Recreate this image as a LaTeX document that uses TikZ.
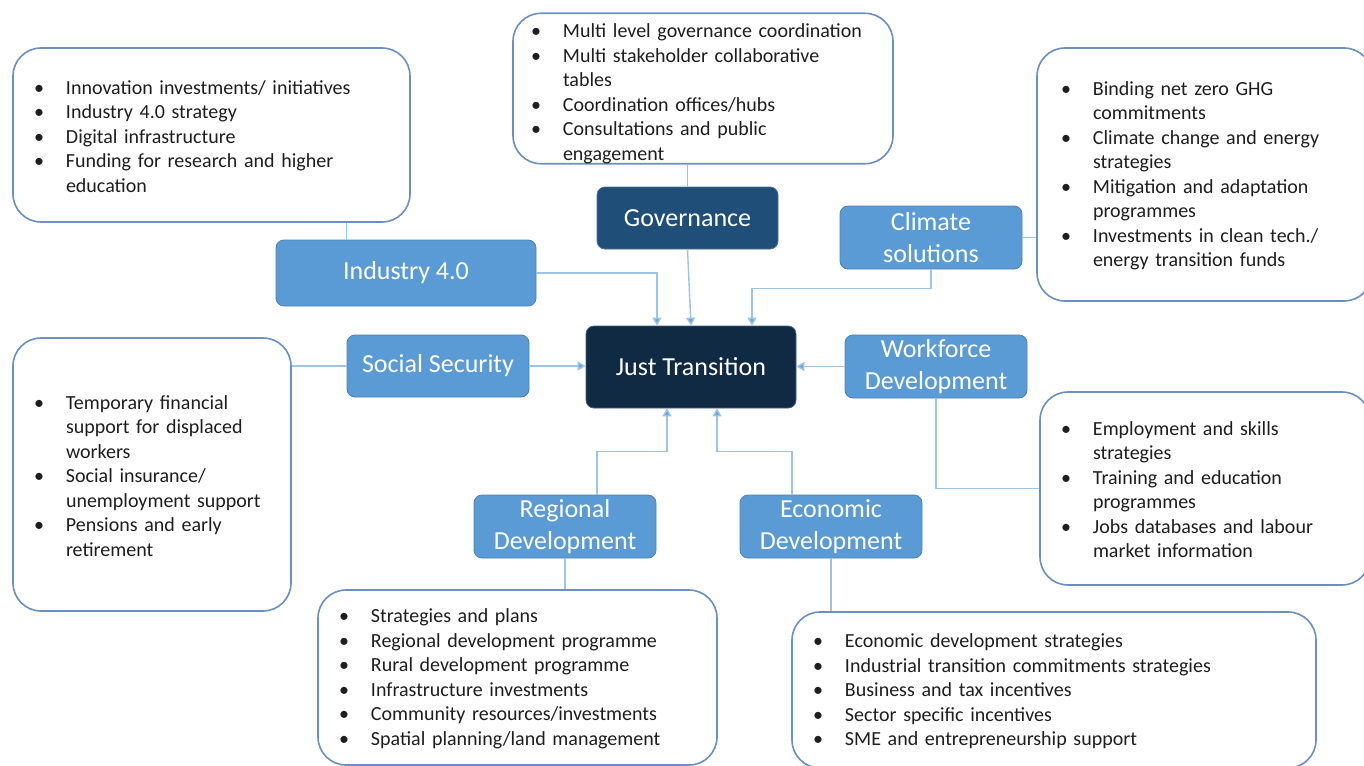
\documentclass[tikz,border=0pt]{standalone}
\usepackage{fontspec}
\setmainfont{Carlito}
\usetikzlibrary{arrows.meta}

\definecolor{boxline}{HTML}{6A8FC0}
\definecolor{listtext}{HTML}{1E1E1E}
\definecolor{topicfill}{HTML}{5B9BD5}
\definecolor{topicline}{HTML}{4A80B8}
\definecolor{govfill}{HTML}{1F4E79}
\definecolor{jtfill}{HTML}{112A44}
\definecolor{jtline}{HTML}{3D6189}
\definecolor{linkcol}{HTML}{9DC3E6}
\definecolor{tipcol}{HTML}{66A6E2}

\newcommand\bitem{\par\hangindent=28pt\hangafter=1\noindent\makebox[28pt][l]{\hspace{-4pt}\textbullet}}
\newcommand\listend[1][8pt]{\par\vspace{#1}}

\begin{document}
\begin{tikzpicture}[x=1pt,y=-1pt,
  listbox/.style={draw=boxline, line width=1.6pt, rounded corners=28pt, fill=white,
    inner xsep=25pt, inner ysep=0pt, align=left, text=listtext,
    font=\fontsize{20}{24.5}\selectfont},
  topic/.style={draw=topicline, fill=topicfill, line width=0.8pt, rounded corners=8pt,
    text=white, align=center, inner sep=0pt, font=\fontsize{26}{31.7}\selectfont,
    minimum width=182pt, minimum height=63pt},
  link/.style={draw=linkcol, line width=1.4pt},
  feed/.style={link, -{Triangle[width=9pt,length=8pt,fill=tipcol]}}]

\useasboundingbox (0,0) rectangle (1364,765);
\clip (0,0) rectangle (1364,765);

% the lists
\node[listbox, text width=347pt, minimum height=174pt] (ind_list) at (211.5,135) {%
  \bitem Innovation investments/ initiatives
  \bitem Industry 4.0 strategy
  \bitem Digital infrastructure
  \bitem Funding for research and higher\newline education\listend};
\node[listbox, inner xsep=22pt, text width=336pt, minimum height=149pt] (gov_list) at (703,88.5) {%
  \bitem Multi level governance coordination
  \bitem Multi stakeholder collaborative\newline tables
  \bitem Coordination offices/hubs
  \bitem Consultations and public\newline engagement\listend[0pt]};
\node[listbox, inner xsep=28pt, text width=279pt, minimum height=253pt] (clim_list) at (1204.5,174.5) {%
  \bitem Binding net zero GHG\newline commitments
  \bitem Climate change and energy\newline strategies
  \bitem Mitigation and adaptation\newline programmes
  \bitem Investments in clean tech./\newline energy transition funds\listend};
\node[listbox, text width=228pt, minimum height=273pt] (soc_list) at (152,474.5) {%
  \bitem Temporary financial\newline support for displaced\newline workers
  \bitem Social insurance/\newline unemployment support
  \bitem Pensions and early\newline retirement\listend};
\node[listbox, text width=280pt, minimum height=193pt] (work_list) at (1205,488.5) {%
  \bitem Employment and skills\newline strategies
  \bitem Training and education\newline programmes
  \bitem Jobs databases and labour\newline market information\listend};
\node[listbox, text width=349pt, minimum height=175pt] (reg_list) at (517.5,677.5) {%
  \bitem Strategies and plans
  \bitem Regional development programme
  \bitem Rural development programme
  \bitem Infrastructure investments
  \bitem Community resources/investments
  \bitem Spatial planning/land management\listend};
\node[listbox, text width=474pt, minimum height=156pt] (eco_list) at (1054,690) {%
  \bitem Economic development strategies
  \bitem Industrial transition commitments strategies
  \bitem Business and tax incentives
  \bitem Sector specific incentives
  \bitem SME and entrepreneurship support\listend};

% the topics
\node[topic, fill=govfill, draw=govfill!80!white, minimum width=181pt, minimum height=62pt] (gov) at (687.5,218) {Governance};
\node[topic, minimum width=260pt, minimum height=66pt] (ind) at (406,273) {\raisebox{-2pt}{Industry 4.0}};
\node[topic] (clim) at (931,237.5) {Climate\\solutions};
\node[topic, minimum height=62pt] (soc) at (438,366) {Social Security};
\node[topic, fill=jtfill, draw=jtline, minimum width=210pt, minimum height=82pt] (jt) at (691,367) {Just Transition};
\node[topic] (work) at (936,366.5) {Workforce\\Development};
\node[topic] (reg) at (565,526.5) {Regional\\Development};
\node[topic] (eco) at (831,526.5) {Economic\\Development};

% lists to topics
\draw[link] ([xshift=71pt]ind.north west) -- ([xshift=71pt]ind.north west |- ind_list.south);
\draw[link] (gov.north) -- (gov.north |- gov_list.south);
\draw[link] (clim.east) -- (clim.east -| clim_list.west);
\draw[link] (soc.west) -- (soc.west -| soc_list.east);
\draw[link] (work.south) |- (work_list.west);
\draw[link] (reg.south) -- (reg.south |- reg_list.north);
\draw[link] (eco.south) -- (eco.south |- eco_list.north);

% topics into the centre
\draw[feed] (ind.east) -| ([xshift=-34pt]jt.north);
\draw[feed] (gov.south) -- (jt.north);
\draw[feed] (clim.south) -- ++(0,19) -| ([xshift=61pt]jt.north);
\draw[feed] (soc.east) -- (soc.east -| jt.west);
\draw[feed] (work.west) -- (work.west -| jt.east);
\draw[feed] ([xshift=32pt]reg.north) -- ++(0,-43) -| ([xshift=-24pt]jt.south);
\draw[feed] ([xshift=-39pt]eco.north) -- ++(0,-43) -| ([xshift=26pt]jt.south);
\end{tikzpicture}
\end{document}
